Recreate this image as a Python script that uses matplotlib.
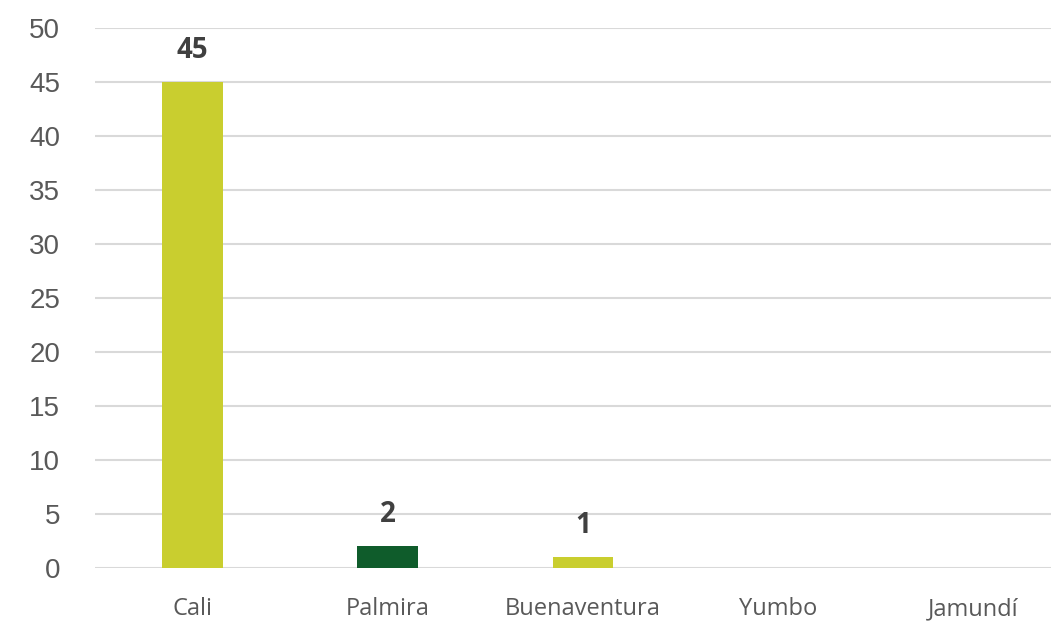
import matplotlib
matplotlib.use("Agg")
from matplotlib import pyplot as plt

ciudades = ["Cali", "Palmira", "Buenaventura", "Yumbo", "Jamundí"]
valores = [45, 2, 1, 0, 0]
colores = ["#C9CE2F", "#0F5C2B", "#C9CE2F", "#C9CE2F", "#C9CE2F"]
y_ticks = list(range(0, 51, 5))

plt.rcParams["font.family"] = ["Open Sans", "DejaVu Sans"]

fig = plt.figure(figsize=(10.51, 6.22), dpi=100)
ax = fig.add_axes([95 / 1051, 54 / 622, 1 - 95 / 1051, 540 / 622])

x = range(len(ciudades))
bars = ax.bar(x, valores, width=0.31, color=colores, zorder=3)

# etiquetas de datos (solo barras con valor)
for b, v in zip(bars, valores):
    if v > 0:
        ax.annotate(str(v), (b.get_x() + b.get_width() / 2, v),
                    xytext=(0, 23), textcoords="offset points",
                    ha="center", va="center", fontsize=20, fontweight="bold",
                    color="#404040")

ax.set_xlim(-0.5, 4.4)
ax.set_ylim(0, 50)
ax.set_yticks(y_ticks)
ax.set_yticklabels([str(t) for t in y_ticks], family="Liberation Sans")
ax.set_xticks(list(x))
ax.set_xticklabels(ciudades)
ax.tick_params(axis="y", length=0, pad=25, labelsize=20, labelcolor="#595959")
ax.tick_params(axis="x", length=0, pad=21, labelsize=17, labelcolor="#595959")

ax.grid(axis="y", color="#D9D9D9", linewidth=1.5, zorder=0)
for s in ax.spines.values():
    s.set_visible(False)

fig.savefig("out.png", dpi=100)
